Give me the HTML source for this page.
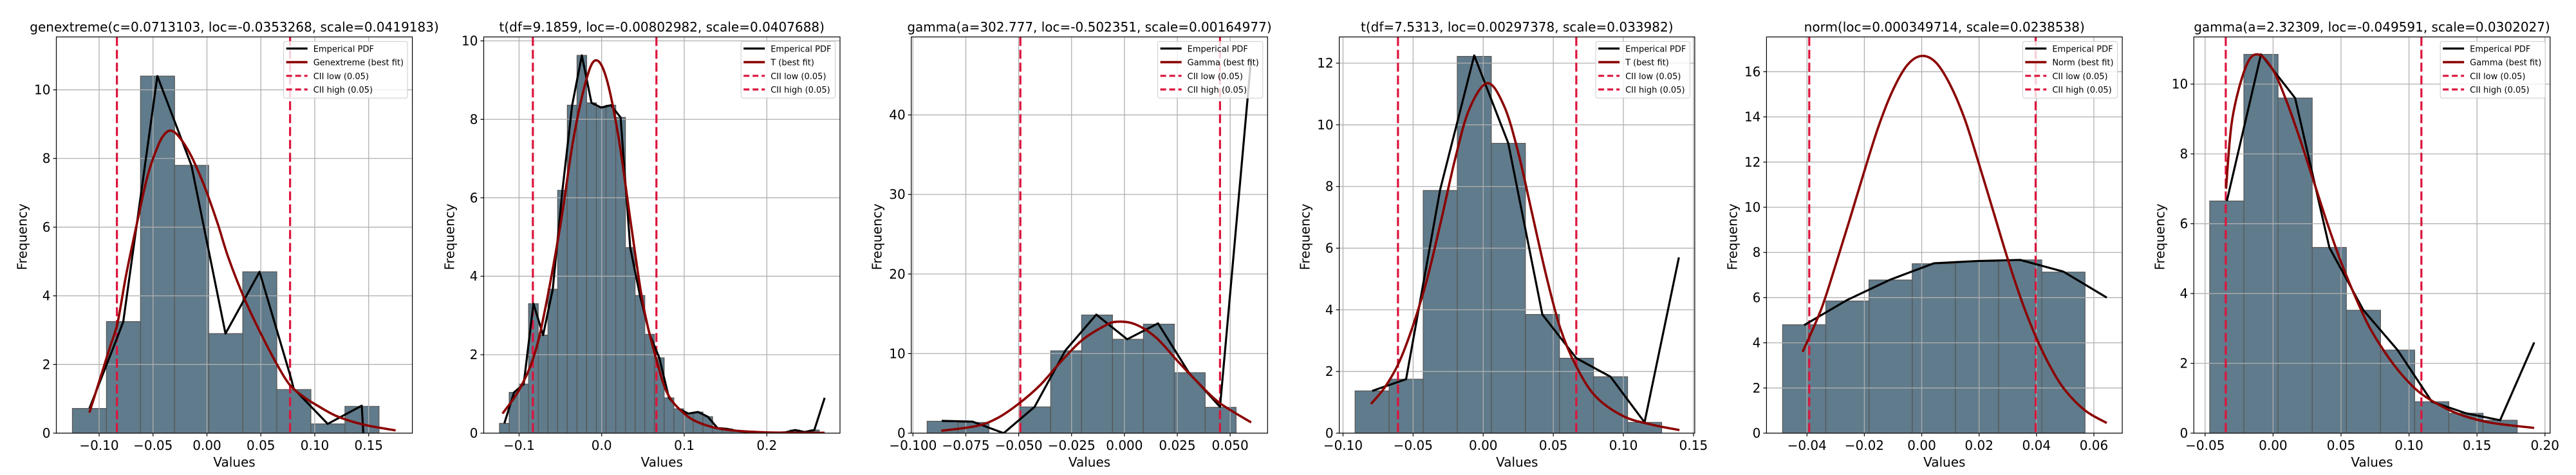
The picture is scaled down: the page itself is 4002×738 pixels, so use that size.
<!DOCTYPE html>
<html><head><meta charset="utf-8">
<style>
html,body{margin:0;padding:0;background:#fff;}
svg{display:block;font-family:"DejaVu Sans","Liberation Sans",sans-serif;}
</style></head>
<body>
<svg id="fig" xmlns="http://www.w3.org/2000/svg" width="4002" height="738" viewBox="0 0 4002 738"></svg>
<script>
// ---------- Panel 1: genextreme ----------
const p1Title = "genextreme(c=0.0713103, loc=-0.0353268, scale=0.0419183)";
const p1FitLabel = "Genextreme (best fit)";
const p1BinStart = -0.1248, p1BinWidth = 0.0316;
const p1Heights = [0.72, 3.25, 10.4, 7.8, 2.9, 4.7, 1.27, 0.27, 0.78];
const p1EmpX = [-0.1090, -0.0830, -0.0776, -0.0460, -0.0144, 0.0172, 0.0488, 0.0780, 0.0804, 0.1120, 0.1436, 0.1450];
const p1EmpY = [0.72, 2.8, 3.25, 10.4, 7.8, 2.9, 4.7, 1.6, 1.3, 0.27, 0.8, 0.0];
const p1FitX = [-0.109, -0.1, -0.09, -0.083, -0.075, -0.065, -0.055, -0.045, -0.038, -0.032, -0.025, -0.015, -0.005, 0.0, 0.01, 0.02, 0.035, 0.05, 0.065, 0.077, 0.09, 0.1, 0.12, 0.145, 0.175];
const p1FitY = [0.6, 1.5, 2.5, 3.2, 4.6, 6.1, 7.5, 8.4, 8.75, 8.8, 8.6, 8.1, 7.4, 7.0, 6.1, 5.1, 3.9, 2.9, 2.0, 1.4, 1.05, 0.85, 0.5, 0.25, 0.08];
const p1Cii = [-0.0835, 0.0771];
const p1XTicks = [-0.10, -0.05, 0.00, 0.05, 0.10, 0.15];
const p1XLabels = ["\u22120.10", "\u22120.05", "0.00", "0.05", "0.10", "0.15"];
const p1YTicks = [0, 2, 4, 6, 8, 10];
const p1YLabels = ["0", "2", "4", "6", "8", "10"];

// ---------- Panel 2: t ----------
const p2Title = "t(df=9.1859, loc=-0.00802982, scale=0.0407688)";
const p2FitLabel = "T (best fit)";
const p2BinStart = -0.1237, p2BinWidth = 0.01173;
const p2Heights = [0.25, 1.04, 1.25, 3.3, 2.5, 3.67, 6.19, 8.36, 9.63, 8.42, 8.3, 8.36, 8.05, 4.73, 3.51, 2.52, 1.92, 0.9, 0.62, 0.5, 0.54, 0.42, 0.13, 0.11, 0.06, 0.03, 0.02, 0.01, 0.01, 0.02, 0.08, 0.03, 0.08];
const p2EmpX = [-0.1178, -0.1061, -0.0944, -0.0826, -0.0709, -0.0592, -0.0475, -0.0357, -0.0240, -0.0123, -0.0006, 0.0112, 0.0229, 0.0346, 0.0464, 0.0581, 0.0698, 0.0815, 0.0933, 0.1050, 0.1167, 0.1285, 0.1402, 0.1519, 0.1636, 0.1754, 0.1871, 0.1988, 0.2106, 0.2223, 0.2340, 0.2457, 0.2575, 0.2700];
const p2EmpY = [0.25, 1.04, 1.25, 3.3, 2.5, 3.67, 6.19, 8.36, 9.63, 8.42, 8.3, 8.36, 8.05, 4.73, 3.51, 2.52, 1.92, 0.9, 0.62, 0.5, 0.54, 0.42, 0.13, 0.11, 0.06, 0.03, 0.02, 0.01, 0.01, 0.02, 0.08, 0.03, 0.08, 0.9];
const p2FitX = [-0.12, -0.1, -0.083, -0.07, -0.05, -0.035, -0.02, -0.008, 0.005, 0.02, 0.035, 0.05, 0.066, 0.08, 0.1, 0.12, 0.15, 0.2, 0.27];
const p2FitY = [0.5, 1.1, 1.9, 3.0, 5.3, 7.4, 8.9, 9.5, 9.1, 7.6, 5.4, 3.3, 1.9, 1.0, 0.5, 0.25, 0.09, 0.02, 0.01];
const p2Cii = [-0.0833, 0.0663];
const p2XTicks = [-0.1, 0.0, 0.1, 0.2];
const p2XLabels = ["\u22120.1", "0.0", "0.1", "0.2"];
const p2YTicks = [0, 2, 4, 6, 8, 10];
const p2YLabels = ["0", "2", "4", "6", "8", "10"];

// ---------- Panel 3: gamma ----------
const p3Title = "gamma(a=302.777, loc=-0.502351, scale=0.00164977)";
const p3FitLabel = "Gamma (best fit)";
const p3BinStart = -0.0933, p3BinWidth = 0.01461;
const p3Heights = [1.5, 1.35, 0, 3.3, 10.35, 14.85, 11.8, 13.7, 7.6, 3.25];
const p3EmpX = [-0.0864, -0.0718, -0.0571, -0.0425, -0.0279, -0.0133, 0.0013, 0.0159, 0.0305, 0.0452, 0.0599];
const p3EmpY = [1.55, 1.45, 0, 3.3, 10.4, 14.9, 11.8, 13.8, 7.6, 3.3, 47];
const p3FitX = [-0.0866, -0.07, -0.06, -0.05, -0.04, -0.03, -0.02, -0.01, -0.004, 0.005, 0.015, 0.025, 0.035, 0.045, 0.0599];
const p3FitY = [0.3, 0.9, 1.9, 3.7, 6.0, 9.0, 11.7, 13.4, 14.0, 13.7, 12.0, 9.1, 6.3, 3.8, 1.35];
const p3Cii = [-0.0492, 0.0452];
const p3XTicks = [-0.100, -0.075, -0.050, -0.025, 0.000, 0.025, 0.050];
const p3XLabels = ["\u22120.100", "\u22120.075", "\u22120.050", "\u22120.025", "0.000", "0.025", "0.050"];
const p3YTicks = [0, 10, 20, 30, 40];
const p3YLabels = ["0", "10", "20", "30", "40"];

// ---------- Panel 4: t ----------
const p4Title = "t(df=7.5313, loc=0.00297378, scale=0.033982)";
const p4FitLabel = "T (best fit)";
const p4BinStart = -0.0914, p4BinWidth = 0.0243;
const p4Heights = [1.37, 1.75, 7.87, 12.22, 9.4, 3.85, 2.43, 1.83, 0.35];
const p4EmpX = [-0.0792, -0.0550, -0.0307, -0.0064, 0.0179, 0.0422, 0.0665, 0.0908, 0.1151, 0.1396];
const p4EmpY = [1.37, 1.75, 7.9, 12.25, 9.4, 3.85, 2.43, 1.83, 0.35, 5.7];
const p4FitX = [-0.08, -0.07, -0.06, -0.05, -0.04, -0.03, -0.02, -0.01, 0.003, 0.015, 0.025, 0.035, 0.045, 0.055, 0.066, 0.08, 0.1, 0.12, 0.14];
const p4FitY = [0.95, 1.5, 2.3, 3.5, 5.0, 6.9, 8.9, 10.5, 11.35, 10.6, 9.1, 7.1, 5.1, 3.4, 2.2, 1.2, 0.55, 0.28, 0.1];
const p4Cii = [-0.0608, 0.0664];
const p4XTicks = [-0.10, -0.05, 0.00, 0.05, 0.10, 0.15];
const p4XLabels = ["\u22120.10", "\u22120.05", "0.00", "0.05", "0.10", "0.15"];
const p4YTicks = [0, 2, 4, 6, 8, 10, 12];
const p4YLabels = ["0", "2", "4", "6", "8", "10", "12"];

// ---------- Panel 5: norm ----------
const p5Title = "norm(loc=0.000349714, scale=0.0238538)";
const p5FitLabel = "Norm (best fit)";
const p5BinStart = -0.0485, p5BinWidth = 0.01506;
const p5Heights = [4.8, 5.85, 6.78, 7.5, 7.6, 7.67, 7.13];
const p5EmpX = [-0.0410, -0.0259, -0.0109, 0.0042, 0.0192, 0.0343, 0.0494, 0.0645];
const p5EmpY = [4.78, 5.9, 6.8, 7.52, 7.62, 7.67, 7.15, 6.0];
const p5FitX = [-0.0415, -0.035, -0.03, -0.025, -0.02, -0.015, -0.01, -0.005, 0.0, 0.005, 0.01, 0.015, 0.02, 0.025, 0.03, 0.035, 0.04, 0.045, 0.05, 0.057, 0.0645];
const p5FitY = [3.6, 5.5, 7.45, 9.5, 11.6, 13.6, 15.2, 16.3, 16.7, 16.4, 15.4, 13.9, 11.9, 9.8, 7.7, 5.8, 4.2, 2.9, 1.9, 1.0, 0.45];
const p5Cii = [-0.0392, 0.0397];
const p5XTicks = [-0.04, -0.02, 0.00, 0.02, 0.04, 0.06];
const p5XLabels = ["\u22120.04", "\u22120.02", "0.00", "0.02", "0.04", "0.06"];
const p5YTicks = [0, 2, 4, 6, 8, 10, 12, 14, 16];
const p5YLabels = ["0", "2", "4", "6", "8", "10", "12", "14", "16"];

// ---------- Panel 6: gamma ----------
const p6Title = "gamma(a=2.32309, loc=-0.049591, scale=0.0302027)";
const p6FitLabel = "Gamma (best fit)";
const p6BinStart = -0.0466, p6BinWidth = 0.02513;
const p6Heights = [6.65, 10.85, 9.6, 5.32, 3.52, 2.38, 0.9, 0.57, 0.37];
const p6EmpX = [-0.0340, -0.0089, 0.0162, 0.0414, 0.0665, 0.0916, 0.1168, 0.1419, 0.1670, 0.1921];
const p6EmpY = [6.65, 10.85, 9.6, 5.32, 3.52, 2.38, 0.9, 0.57, 0.37, 2.6];
const p6FitX = [-0.0346, -0.03, -0.02, -0.011, 0.0, 0.01, 0.02, 0.03, 0.04, 0.05, 0.06, 0.07, 0.08, 0.09, 0.1, 0.11, 0.125, 0.14, 0.16, 0.192];
const p6FitY = [7.0, 9.0, 10.5, 10.85, 10.4, 9.5, 8.4, 7.2, 6.0, 4.9, 3.95, 3.1, 2.45, 1.9, 1.45, 1.1, 0.75, 0.5, 0.3, 0.15];
const p6Cii = [-0.0348, 0.1091];
const p6XTicks = [-0.05, 0.00, 0.05, 0.10, 0.15, 0.20];
const p6XLabels = ["\u22120.05", "0.00", "0.05", "0.10", "0.15", "0.20"];
const p6YTicks = [0, 2, 4, 6, 8, 10];
const p6YLabels = ["0", "2", "4", "6", "8", "10"];

// layout (pixels / axis domains) kept separate from data
const layouts = [
  {L: 87.5,   R: 640.6,  xmin: -0.1397, xmax: 0.1905, ymax: 11.54},
  {L: 751.5,  R: 1305.0, xmin: -0.1428, xmax: 0.2886, ymax: 10.1},
  {L: 1415.7, R: 1969.3, xmin: -0.1008, xmax: 0.0677, ymax: 49.8},
  {L: 2080.6, R: 2632.9, xmin: -0.1027, xmax: 0.1509, ymax: 12.85},
  {L: 2744.4, R: 3297.1, xmin: -0.0541, xmax: 0.0699, ymax: 17.54},
  {L: 3408.25,R: 3961.8, xmin: -0.0583, xmax: 0.2038, ymax: 11.35}
];
const panels = [
  {title:p1Title, fitLabel:p1FitLabel, binStart:p1BinStart, binWidth:p1BinWidth, heights:p1Heights, empX:p1EmpX, empY:p1EmpY, fitX:p1FitX, fitY:p1FitY, cii:p1Cii, xt:p1XTicks, xl:p1XLabels, yt:p1YTicks, yl:p1YLabels},
  {title:p2Title, fitLabel:p2FitLabel, binStart:p2BinStart, binWidth:p2BinWidth, heights:p2Heights, empX:p2EmpX, empY:p2EmpY, fitX:p2FitX, fitY:p2FitY, cii:p2Cii, xt:p2XTicks, xl:p2XLabels, yt:p2YTicks, yl:p2YLabels},
  {title:p3Title, fitLabel:p3FitLabel, binStart:p3BinStart, binWidth:p3BinWidth, heights:p3Heights, empX:p3EmpX, empY:p3EmpY, fitX:p3FitX, fitY:p3FitY, cii:p3Cii, xt:p3XTicks, xl:p3XLabels, yt:p3YTicks, yl:p3YLabels},
  {title:p4Title, fitLabel:p4FitLabel, binStart:p4BinStart, binWidth:p4BinWidth, heights:p4Heights, empX:p4EmpX, empY:p4EmpY, fitX:p4FitX, fitY:p4FitY, cii:p4Cii, xt:p4XTicks, xl:p4XLabels, yt:p4YTicks, yl:p4YLabels},
  {title:p5Title, fitLabel:p5FitLabel, binStart:p5BinStart, binWidth:p5BinWidth, heights:p5Heights, empX:p5EmpX, empY:p5EmpY, fitX:p5FitX, fitY:p5FitY, cii:p5Cii, xt:p5XTicks, xl:p5XLabels, yt:p5YTicks, yl:p5YLabels},
  {title:p6Title, fitLabel:p6FitLabel, binStart:p6BinStart, binWidth:p6BinWidth, heights:p6Heights, empX:p6EmpX, empY:p6EmpY, fitX:p6FitX, fitY:p6FitY, cii:p6Cii, xt:p6XTicks, xl:p6XLabels, yt:p6YTicks, yl:p6YLabels}
];

const NS = "http://www.w3.org/2000/svg";
const svg = document.getElementById("fig");
const TOP = 57.4, BOT = 673.0;
function mk(tag, attrs, parent) {
  const e = document.createElementNS(NS, tag);
  for (const k in attrs) e.setAttribute(k, attrs[k]);
  parent.appendChild(e);
  return e;
}
function smoothPath(pts) {
  let d = "M" + pts[0][0].toFixed(2) + "," + pts[0][1].toFixed(2);
  for (let i = 0; i < pts.length - 1; i++) {
    const p0 = pts[i - 1] || pts[i], p1 = pts[i], p2 = pts[i + 1], p3 = pts[i + 2] || p2;
    const c1x = p1[0] + (p2[0] - p0[0]) / 6, c1y = p1[1] + (p2[1] - p0[1]) / 6;
    const c2x = p2[0] - (p3[0] - p1[0]) / 6, c2y = p2[1] - (p3[1] - p1[1]) / 6;
    d += " C" + c1x.toFixed(2) + "," + c1y.toFixed(2) + " " + c2x.toFixed(2) + "," + c2y.toFixed(2) + " " + p2[0].toFixed(2) + "," + p2[1].toFixed(2);
  }
  return d;
}

panels.forEach((p, idx) => {
  const lay = layouts[idx];
  const L = lay.L, R = lay.R, T = TOP, B = BOT;
  const sx = v => L + (v - lay.xmin) / (lay.xmax - lay.xmin) * (R - L);
  const sy = v => B - v / lay.ymax * (B - T);
  const g = mk("g", {}, svg);
  
  
  const clipId = "clip" + idx;
  const cp = mk("clipPath", {id: clipId}, g);
  mk("rect", {x: L, y: T, width: R - L, height: B - T}, cp);

  // bars
  const bars = mk("g", {"clip-path": "url(#" + clipId + ")"}, g);
  
  
  p.heights.forEach((h, i) => {
    if (h <= 0) return;
    const x0 = sx(p.binStart + i * p.binWidth), x1 = sx(p.binStart + (i + 1) * p.binWidth);
    const r = mk("rect", {x: x0, y: sy(h), width: x1 - x0, height: sy(0) - sy(h), fill: "#607b8b", stroke: "#555555", "stroke-width": 1.2}, bars);
    
    
  });

  // grid
  const grid = mk("g", {stroke: "#b0b0b0", "stroke-width": 1.3}, g);
  
  
  p.xt.forEach(v => mk("line", {x1: sx(v), x2: sx(v), y1: T, y2: B}, grid));
  p.yt.forEach(v => mk("line", {x1: L, x2: R, y1: sy(v), y2: sy(v)}, grid));

  const lines = mk("g", {"clip-path": "url(#" + clipId + ")", fill: "none", "stroke-linejoin": "round"}, g);
  // CII lines
  p.cii.forEach((v, i) => {
    const l = mk("line", {x1: sx(v), x2: sx(v), y1: T, y2: B, stroke: "#dc143c", "stroke-width": 3.2, "stroke-dasharray": "14,6"}, lines);
    
    
  });
  // empirical
  const emp = mk("polyline", {points: p.empX.map((x, i) => sx(x).toFixed(2) + "," + sy(p.empY[i]).toFixed(2)).join(" "), stroke: "#000", "stroke-width": 3.2}, lines);
  
  
  // fit
  const fit = mk("path", {d: smoothPath(p.fitX.map((x, i) => [sx(x), sy(p.fitY[i])])), stroke: "#8b0000", "stroke-width": 3.6}, lines);
  
  

  // spines
  const sp = mk("rect", {x: L, y: T, width: R - L, height: B - T, fill: "none", stroke: "#000", "stroke-width": 1.2}, g);
  
  

  // ticks
  const xAxis = mk("g", {}, g);
  
  
  p.xt.forEach((v, i) => {
    mk("line", {x1: sx(v), x2: sx(v), y1: B, y2: B + 5, stroke: "#000", "stroke-width": 1.2}, xAxis);
    const t = mk("text", {x: sx(v), y: B + 26, "font-size": 20, "text-anchor": "middle", fill: "#000"}, xAxis);
    t.textContent = p.xl[i];
    
    
  });
  const yAxis = mk("g", {}, g);
  
  
  p.yt.forEach((v, i) => {
    mk("line", {x1: L - 5, x2: L, y1: sy(v), y2: sy(v), stroke: "#000", "stroke-width": 1.2}, yAxis);
    const t = mk("text", {x: L - 9, y: sy(v) + 7, "font-size": 20, "text-anchor": "end", fill: "#000"}, yAxis);
    t.textContent = p.yl[i];
    
    
  });

  // axis titles
  const xt = mk("text", {x: (L + R) / 2, y: 725, "font-size": 20, "text-anchor": "middle"}, g);
  xt.textContent = "Values";
  
  
  const yx = L - 46, yy = 368;
  const ytt = mk("text", {x: yx, y: yy, "font-size": 20, "text-anchor": "middle", transform: "rotate(-90 " + yx + " " + yy + ")"}, g);
  ytt.textContent = "Frequency";
  
  

  // title
  const tt = mk("text", {x: (L + R) / 2, y: 49, "font-size": 20, "text-anchor": "middle"}, g);
  tt.textContent = p.title;
  
  

  // legend
  const leg = mk("g", {}, g);
  
  
  const box = mk("rect", {y: T + 7, height: 88, rx: 3, fill: "#fff", "fill-opacity": 0.8, stroke: "#cccccc", "stroke-width": 1}, leg);
  const labels = ["Emperical PDF", p.fitLabel, "CII low (0.05)", "CII high (0.05)"];
  const styles = [
    {stroke: "#000", "stroke-width": 3.2},
    {stroke: "#8b0000", "stroke-width": 3.6},
    {stroke: "#dc143c", "stroke-width": 3.2, "stroke-dasharray": "9,5"},
    {stroke: "#dc143c", "stroke-width": 3.2, "stroke-dasharray": "9,5"}
  ];
  const texts = [];
  let maxW = 0;
  labels.forEach((lab, i) => {
    const t = mk("text", {y: T + 18 + i * 21.2 + 5, "font-size": 13, fill: "#000"}, leg);
    t.textContent = lab;
    
    
    texts.push(t);
    let w = 0;
    try { w = t.getComputedTextLength(); } catch (e) { w = lab.length * 7.8; }
    if (!w) w = lab.length * 7.8;
    maxW = Math.max(maxW, w);
  });
  const boxR = R - 7.5;
  const boxL = boxR - (maxW + 52);
  box.setAttribute("x", boxL);
  box.setAttribute("width", boxR - boxL);
  labels.forEach((lab, i) => {
    const yy2 = T + 18 + i * 21.2;
    const a = Object.assign({x1: boxL + 4, x2: boxL + 37, y1: yy2, y2: yy2}, styles[i]);
    const ln = mk("line", a, leg);
    
    
    texts[i].setAttribute("x", boxL + 46);
  });
});
</script>
</body></html>
